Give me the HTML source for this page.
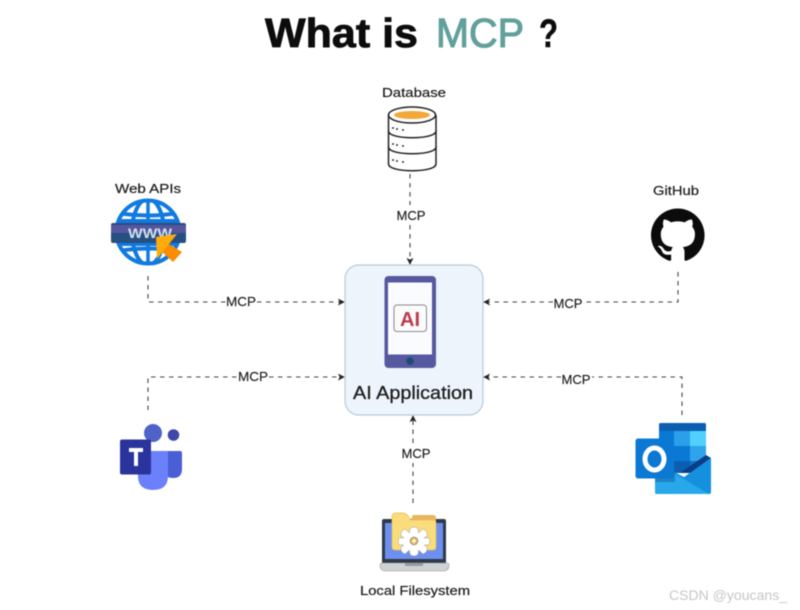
<!DOCTYPE html>
<html>
<head>
<meta charset="utf-8">
<style>
html,body{margin:0;padding:0;background:#fff;width:800px;height:610px;overflow:hidden}
svg{display:block;filter:blur(0.45px)}
text{font-family:"Liberation Sans","DejaVu Sans",sans-serif;fill:#1c1c1c}
.l{font-size:13px;text-anchor:middle;stroke:#1c1c1c;stroke-width:.2}
.d{fill:none;stroke:#444;stroke-width:1.1;stroke-dasharray:4.5 4.5}
.m{font-size:13px;text-anchor:middle;stroke:#1c1c1c;stroke-width:.15}
</style>
</head>
<body>
<svg width="800" height="610" viewBox="0 0 800 610" xmlns="http://www.w3.org/2000/svg">
<defs>
<marker id="a" viewBox="0 0 8 8" refX="7" refY="4" markerWidth="7" markerHeight="7" markerUnits="userSpaceOnUse" orient="auto"><path d="M0 0L8 4L0 8L2 4Z" fill="#222"/></marker>
<clipPath id="g"><circle cx="148" cy="232" r="32"/></clipPath>
</defs>
<rect width="800" height="610" fill="#fff"/>

<!-- title -->
<text x="265" y="47" font-size="41" font-weight="700" textLength="153" lengthAdjust="spacingAndGlyphs" style="fill:#0c0c0c;stroke:#0c0c0c;stroke-width:.8">What is</text>
<text x="436" y="47" font-size="41" textLength="88" lengthAdjust="spacingAndGlyphs" style="fill:#62a09b;stroke:#62a09b;stroke-width:1.1">MCP</text>
<text x="539" y="47" font-size="40" font-weight="700" textLength="19" lengthAdjust="spacingAndGlyphs" style="fill:#0c0c0c;stroke:#0c0c0c;stroke-width:.5">?</text>

<!-- connectors -->
<path class="d" d="M410 174V205"/>
<path class="d" d="M410 225V264" marker-end="url(#a)"/>
<path class="d" d="M148 276V302H226"/>
<path class="d" d="M257 302H344" marker-end="url(#a)"/>
<path class="d" d="M678 272V302H584"/>
<path class="d" d="M553 302H484" marker-end="url(#a)"/>
<path class="d" d="M148 410V377H238"/>
<path class="d" d="M269 377H344" marker-end="url(#a)"/>
<path class="d" d="M682 415V377H592"/>
<path class="d" d="M561 377H484" marker-end="url(#a)"/>
<path class="d" d="M413 503V463"/>
<path class="d" d="M413 443V416" marker-end="url(#a)"/>

<text class="m" x="411" y="220" textLength="29" lengthAdjust="spacingAndGlyphs">MCP</text>
<text class="m" x="241" y="306" textLength="30" lengthAdjust="spacingAndGlyphs">MCP</text>
<text class="m" x="568" y="308" textLength="29" lengthAdjust="spacingAndGlyphs">MCP</text>
<text class="m" x="253" y="381" textLength="30" lengthAdjust="spacingAndGlyphs">MCP</text>
<text class="m" x="576" y="384" textLength="29" lengthAdjust="spacingAndGlyphs">MCP</text>
<text class="m" x="416" y="458" textLength="29" lengthAdjust="spacingAndGlyphs">MCP</text>

<!-- center box -->
<rect x="345" y="265" width="138" height="150" rx="14" fill="#edf4fb" stroke="#b7cbe0" stroke-width="1.2"/>
<rect x="384.500" y="276" width="51.500" height="92" rx="4" fill="#56599f"/>
<rect x="388" y="282.500" width="44" height="72" fill="#f9fbfe"/>
<circle cx="410" cy="361" r="3.800" fill="#1d4b76"/>
<rect x="394" y="305" width="32.500" height="26.500" rx="3" fill="#fbfbfb" stroke="#8a8a8a" stroke-width="1"/>
<text x="410" y="326" text-anchor="middle" font-size="20" font-weight="700" style="fill:#bb3b4c">AI</text>
<text x="413" y="399" text-anchor="middle" font-size="18" textLength="120" lengthAdjust="spacingAndGlyphs" style="stroke:#1c1c1c;stroke-width:.3">AI Application</text>

<!-- database -->
<text class="l" x="414" y="97" textLength="64" lengthAdjust="spacingAndGlyphs">Database</text>
<g fill="#fff" stroke="#222" stroke-width="1.500">
<path d="M388.500 147V164C388.500 173 436 173 436 164V147"/>
<path d="M388.500 131V147C388.500 156 436 156 436 147V131"/>
<path d="M388.500 115V131C388.500 140 436 140 436 131V115"/>
<ellipse cx="412" cy="115" rx="23.500" ry="8"/>
</g>
<ellipse cx="412" cy="115" rx="18" ry="4" fill="#f2a83a"/>
<g fill="#333"><circle cx="393" cy="128" r="1"/><circle cx="397" cy="129" r="1"/><circle cx="403" cy="130" r="1"/><circle cx="393" cy="144" r="1"/><circle cx="397" cy="145" r="1"/><circle cx="403" cy="146" r="1"/><circle cx="393" cy="160" r="1"/><circle cx="397" cy="161" r="1"/><circle cx="403" cy="162" r="1"/></g>

<!-- web -->
<text class="l" x="148" y="193" textLength="66" lengthAdjust="spacingAndGlyphs">Web APIs</text>
<circle cx="148" cy="232" r="31.500" fill="#fff" stroke="#1279e0" stroke-width="4"/>
<g clip-path="url(#g)" fill="none" stroke="#1279e0" stroke-width="4">
<ellipse cx="148" cy="232" rx="16" ry="33"/>
<path d="M148 198V266" stroke-width="3.500"/>
<path d="M118 213Q148 218 178 213"/>
<path d="M118 251Q148 246 178 251"/>
<path d="M112 222H184M112 243H184" stroke-width="6"/>
</g>
<rect x="111" y="223" width="75" height="20" rx="2" fill="#26507f"/>
<rect x="111" y="225" width="75" height="8" fill="#56559f"/>
<text x="150" y="238" text-anchor="middle" font-size="14" font-weight="700" textLength="44" lengthAdjust="spacingAndGlyphs" style="fill:#cfe0ee">WWW</text>
<path d="M167 243L182 252L173 262L160 250Z" fill="#fb8c00"/>
<path d="M156 237L177 234L157 259Z" fill="#ffab0a"/>

<!-- github -->
<text class="l" x="676" y="195" textLength="46" lengthAdjust="spacingAndGlyphs">GitHub</text>
<g transform="translate(651 208.500) scale(3.350)">
<path fill="#0b0b0b" d="M8 0C3.58 0 0 3.58 0 8c0 3.54 2.29 6.53 5.47 7.59.4.07.55-.17.55-.38 0-.19-.01-.82-.01-1.49-2.01.37-2.53-.49-2.69-.94-.09-.23-.48-.94-.82-1.13-.28-.15-.68-.52-.01-.53.63-.01 1.08.58 1.23.82.72 1.21 1.87.87 2.33.66.07-.52.28-.87.51-1.07-1.78-.2-3.64-.89-3.64-3.95 0-.87.31-1.59.82-2.15-.08-.2-.36-1.02.08-2.12 0 0 .67-.21 2.2.82.64-.18 1.32-.27 2-.27.68 0 1.36.09 2 .27 1.53-1.04 2.2-.82 2.2-.82.44 1.1.16 1.92.08 2.12.51.56.82 1.27.82 2.15 0 3.07-1.87 3.75-3.65 3.95.29.25.54.73.54 1.48 0 1.07-.01 1.93-.01 2.2 0 .21.15.46.55.38A8.013 8.013 0 0016 8c0-4.42-3.58-8-8-8z"/>
</g>

<!-- teams -->
<circle cx="173.500" cy="435" r="5.800" fill="#3f48a8"/>
<path d="M168 451H180Q182 451 182 453V469Q182 478 173 478Q167 478 164 474Z" fill="#4a5ed6"/>
<circle cx="153" cy="433" r="9" fill="#4e62c8"/>
<path d="M138 451H168V476Q168 490 153 490Q138 490 138 476Z" fill="#6b80fb"/>
<rect x="120" y="439.500" width="31" height="35" rx="2" fill="#2b339c"/>
<path d="M129 448H143V452H138V466H134V452H129Z" fill="#fff"/>

<!-- outlook -->
<rect x="659" y="423" width="47" height="50" rx="2" fill="#0f6fc6"/>
<rect x="659" y="423" width="47" height="8" rx="2" fill="#0c5fb0"/>
<rect x="659" y="431" width="15" height="15" fill="#0a78d6"/>
<rect x="674" y="431" width="16" height="15" fill="#2b9fe8"/>
<rect x="690" y="431" width="16" height="15" fill="#50d0fb"/>
<rect x="674" y="446" width="16" height="15" fill="#0a78d6"/>
<rect x="690" y="446" width="16" height="15" fill="#2fa4ea"/>
<rect x="674" y="461" width="16" height="12" fill="#0c5fb0"/>
<path d="M706 455L711 458L690 473H680Z" fill="#0b3d88"/>
<path d="M655 462L684 477L711 458V492Q711 494 709 494H657Q655 494 655 492Z" fill="#1490df"/>
<path d="M655 462L709 494H657Q655 494 655 492Z" fill="#28a8ea"/>
<rect x="655" y="470" width="20" height="12" fill="#1a6aa8" opacity=".6"/>
<rect x="635.500" y="438.500" width="38.500" height="40" rx="2.500" fill="#0b78d4"/>
<ellipse cx="654.500" cy="459" rx="9.500" ry="11" fill="none" stroke="#fff" stroke-width="5"/>

<!-- local filesystem -->
<rect x="382" y="519" width="64" height="45" rx="2" fill="#2f3a48"/>
<rect x="385" y="523" width="58" height="36" fill="#6d90f0"/>
<path d="M380 565Q380 563 382 563H447Q449 563 449 565Q449 571 443 571H386Q380 571 380 565Z" fill="#cfd2d4" stroke="#999" stroke-width=".6"/>
<rect x="405" y="563" width="18" height="3" fill="#9a9a9a"/>
<path d="M412 517Q412 515 414 515H433Q436 515 436 518V525H412Z" fill="#edb45e"/>
<path d="M392 517Q392 513 396 513H403Q406 513 408 516L411 520H433Q436 520 436 523V547Q436 550 433 550H395Q392 550 392 547Z" fill="#fbdc7b" stroke="#e2bd62" stroke-width=".7"/>
<g fill="#fff" stroke="#999" stroke-width=".5">
<path d="M414 527Q419 527 418.500 533L423 529Q428 531 427 536L424 538Q431 537 429.500 541Q431 546 424 545L427 547Q428 552 423 554L418.500 550Q419 556 414 556Q409 556 409.500 550L405 554Q400 552 401 547L404 545Q397 546 398.500 541Q397 537 404 538L401 536Q400 531 405 529L409.500 533Q409 527 414 527Z"/>
</g>
<circle cx="414" cy="541" r="3.800" fill="#eec25a" stroke="#888" stroke-width=".9"/>
<circle cx="414" cy="541" r="1.500" fill="#fff"/>
<text class="l" x="415" y="595" textLength="110" lengthAdjust="spacingAndGlyphs">Local Filesystem</text>

<!-- watermark -->
<text x="669" y="600" font-size="13.500" textLength="118" lengthAdjust="spacingAndGlyphs" style="fill:#c6c6c6">CSDN @youcans_</text>
</svg>
</body>
</html>
